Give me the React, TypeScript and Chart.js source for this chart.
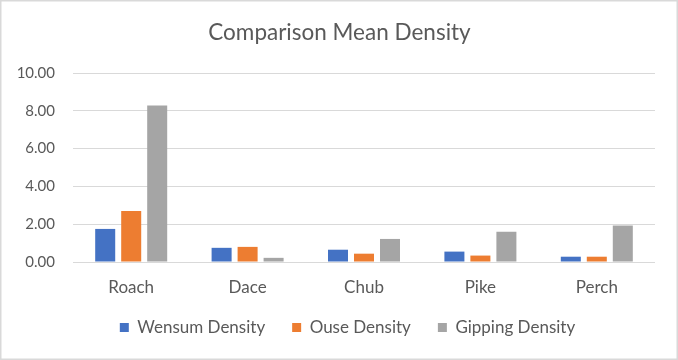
import React, { useEffect, useRef } from "react";
import { Chart, registerables } from "chart.js";

Chart.register(...registerables);

const categories = ["Roach", "Dace", "Chub", "Pike", "Perch"];
const wensumDensity = [1.75, 0.75, 0.65, 0.55, 0.28];
const ouseDensity = [2.7, 0.8, 0.44, 0.34, 0.28];
const gippingDensity = [8.28, 0.22, 1.22, 1.6, 1.93];
const yTicks = [0, 2, 4, 6, 8, 10];

const FONT = "Lato, 'Open Sans', sans-serif";
const TEXT = "#595959";

const borderPlugin = {
  id: "outerBorder",
  afterDraw(chart: any) {
    const ctx = chart.ctx;
    ctx.save();
    ctx.strokeStyle = "#d9d9d9";
    ctx.lineWidth = 1.5;
    ctx.strokeRect(0.75, 0.75, chart.width - 1.5, chart.height - 1.5);
    ctx.restore();
  },
};

// nudge the title and bottom legend so they sit where the reference places them
const blockShiftPlugin = {
  id: "blockShift",
  afterLayout(chart: any) {
    const l = chart.legend;
    if (l) {
      l.top -= 14;
      l.bottom -= 14;
      l.left += 20;
      l.right += 20;
    }
    const t = chart.titleBlock;
    if (t) {
      t.left += 12;
      t.right += 12;
    }
  },
};

export default function App() {
  const ref = useRef<HTMLCanvasElement | null>(null);
  useEffect(() => {
    document.body.style.margin = "0";
    const chart = new Chart(ref.current as HTMLCanvasElement, {
      type: "bar",
      data: {
        labels: categories,
        datasets: [
          { label: "Wensum Density", data: wensumDensity, backgroundColor: "#4472C4", borderWidth: 0 },
          { label: "Ouse Density", data: ouseDensity, backgroundColor: "#ED7D31", borderWidth: 0 },
          { label: "Gipping Density", data: gippingDensity, backgroundColor: "#A5A5A5", borderWidth: 0 },
        ],
      },
      options: {
        animation: false,
        responsive: false,
        maintainAspectRatio: false,
        layout: { padding: { left: 0, right: 23, top: 0, bottom: 0 } },
        datasets: { bar: { categoryPercentage: 0.67, barPercentage: 0.77 } },
        plugins: {
          title: {
            display: true,
            text: "Comparison Mean Density",
            color: TEXT,
            font: { family: FONT, size: 22.5, weight: "normal" },
            padding: { top: 19, bottom: 27 },
          },
          legend: {
            position: "bottom",
            labels: {
              color: TEXT,
              font: { family: FONT, size: 17 },
              boxWidth: 9,
              boxHeight: 9,
              padding: 27,
            },
          },
          tooltip: { enabled: false },
        },
        scales: {
          x: {
            grid: { display: false },
            border: { display: false },
            ticks: { color: TEXT, font: { family: FONT, size: 17 }, padding: 7 },
            afterFit(scale: any) {
              scale.height = 44;
            },
          },
          y: {
            min: 0,
            max: 10,
            afterBuildTicks(scale: any) {
              scale.ticks = yTicks.map((v) => ({ value: v }));
            },
            grid: { color: "#d9d9d9", lineWidth: 1, drawTicks: false },
            border: { display: false },
            ticks: {
              color: TEXT,
              font: { family: FONT, size: 15 },
              padding: 18,
              callback: (v: any) => Number(v).toFixed(2),
            },
            afterFit(scale: any) {
              scale.width = 73;
            },
          },
        },
      },
      plugins: [borderPlugin, blockShiftPlugin],
    } as any);
    return () => chart.destroy();
  }, []);
  return (
    <div style={{ width: 678, height: 360 }}>
      <canvas ref={ref} width={678} height={360} style={{ display: "block" }} />
    </div>
  );
}
